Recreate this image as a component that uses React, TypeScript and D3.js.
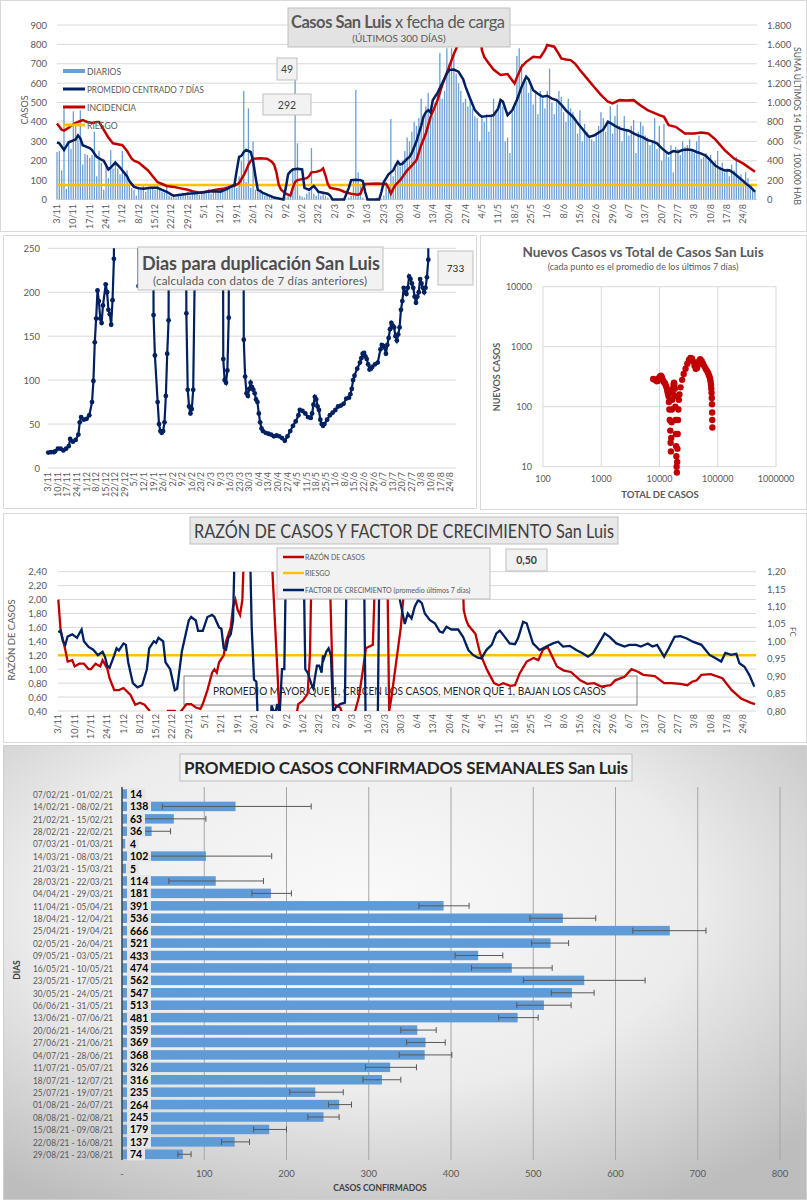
import React from 'react';
import * as d3 from 'd3';

const FONT = 'Lato, "Liberation Sans", sans-serif';
const GRID = '#d9d9d9';
const TXT = '#595959';
const BLUE = '#6a9fd4';
const NAVY = '#002060';
const RED = '#c00000';
const ORANGE = '#ffc000';

// x axis labels (one every 7 days, day 0 = 3/11)
const weekLabels = ['3/11', '10/11', '17/11', '24/11', '1/12', '8/12', '15/12', '22/12', '29/12', '5/1', '12/1', '19/1', '26/1', '2/2', '9/2', '16/2', '23/2', '2/3', '9/3', '16/3', '23/3', '30/3', '6/4', '13/4', '20/4', '27/4', '4/5', '11/5', '18/5', '25/5', '1/6', '8/6', '15/6', '22/6', '29/6', '6/7', '13/7', '20/7', '27/7', '3/8', '10/8', '17/8', '24/8'];

// daily cases, last 300 days
const dailyCases = [
  245, 250, 150, 470, 55, 300, 260,
  455, 380, 310, 460, 180, 235, 230,
  215, 230, 350, 120, 250, 190, 50,
  180, 110, 255, 160, 200, 160, 130,
  250, 140, 150, 90, 60, 50, 20,
  60, 50, 70, 40, 60, 55, 65,
  50, 70, 60, 40, 35, 80, 20,
  15, 25, 10, 30, 20, 35, 25,
  40, 20, 35, 30, 40, 25, 45,
  35, 40, 55, 30, 45, 40, 35,
  50, 40, 45, 60, 55, 70, 80,
  60, 120, 200, 560, 90, 470, 60,
  300, 50, 60, 40, 30, 20, 25,
  15, 20, 10, 5, 0, 5, 0,
  10, 20, 30, 160, 620, 290, 20,
  15, 10, 30, 40, 265, 30, 20,
  40, 20, 30, 20, 10, 0, 5,
  0, 0, 0, 5, 0, 0, 10,
  20, 100, 565, 140, 80, 10, 0,
  0, 0, 0, 0, 10, 0, 5,
  20, 90, 80, 415, 120, 160, 200,
  170, 200, 250, 320, 300, 350, 400,
  380, 420, 520, 430, 480, 550, 460,
  430, 500, 540, 755, 520, 560, 780,
  700, 780, 760, 650, 600, 560, 500,
  520, 480, 510, 470, 430, 420, 300,
  420, 400, 440, 350, 430, 520, 460,
  480, 520, 480, 300, 320, 240, 450,
  500, 740, 780, 700, 620, 610, 550,
  580, 490, 560, 440, 560, 520, 470,
  560, 675, 500, 440, 510, 560, 530,
  450, 400, 520, 470, 450, 400, 340,
  460, 300, 390, 350, 320, 310, 300,
  340, 380, 450, 420, 350, 400, 480,
  340, 430, 490, 380, 300, 430, 360,
  330, 380, 410, 240, 350, 400, 380,
  330, 320, 280, 300, 420, 260, 380,
  200, 390, 240, 220, 280, 140, 270,
  260, 230, 300, 270, 280, 310, 250,
  240, 300, 330, 210, 220, 240, 200,
  230, 180, 200, 250, 170, 190, 140,
  160, 120, 180, 150, 220, 110, 130,
  100, 140, 110, 80, 60, 50,
];

// [day, value]
const avg7: [number, number][] = [[0, 295], [1, 290], [3, 255], [5, 295], [7, 305], [8, 310], [9, 330], [10, 315], [11, 280], [13, 270], [14, 265], [15, 255], [17, 220], [19, 205], [20, 200], [22, 155], [23, 165], [25, 190], [27, 165], [28, 150], [30, 120], [31, 95], [33, 65], [35, 58], [37, 55], [40, 60], [43, 60], [45, 50], [47, 40], [49, 25], [50, 20], [53, 25], [56, 30], [59, 32], [61, 35], [64, 40], [67, 42], [70, 40], [73, 55], [75, 70], [76, 75], [77, 150], [78, 220], [79, 225], [80, 245], [81, 255], [82, 250], [83, 245], [84, 200], [85, 120], [86, 50], [87, 45], [88, 35], [89, 30], [91, 20], [93, 10], [95, 5], [97, 0], [98, 60], [99, 130], [100, 145], [101, 155], [103, 158], [105, 155], [106, 60], [107, 55], [108, 50], [109, 60], [110, 70], [111, 55], [112, 40], [114, 35], [116, 30], [117, 20], [118, 0], [120, 0], [123, 0], [125, 60], [126, 100], [128, 102], [130, 100], [131, 95], [132, 40], [133, 0], [135, 0], [138, 0], [139, 40], [140, 90], [141, 110], [142, 130], [144, 150], [145, 175], [146, 195], [147, 180], [148, 185], [150, 210], [151, 220], [152, 240], [154, 300], [156, 380], [157, 427], [158, 450], [159, 461], [160, 450], [161, 513], [163, 550], [165, 599], [167, 650], [168, 668], [170, 670], [172, 659], [174, 620], [175, 582], [177, 520], [179, 461], [181, 435], [182, 427], [184, 430], [186, 432], [187, 435], [189, 470], [190, 513], [191, 505], [193, 435], [195, 460], [197, 513], [199, 580], [201, 633], [202, 620], [204, 564], [206, 545], [208, 530], [210, 535], [212, 520], [214, 513], [216, 490], [218, 460], [221, 427], [223, 395], [225, 365], [227, 335], [228, 323], [230, 330], [232, 345], [234, 360], [236, 401], [237, 395], [239, 380], [241, 367], [243, 360], [245, 355], [247, 341], [249, 330], [251, 320], [253, 306], [255, 300], [257, 290], [259, 265], [261, 245], [262, 237], [264, 250], [266, 245], [268, 255], [270, 258], [272, 255], [274, 245], [276, 237], [278, 225], [280, 200], [282, 175], [284, 160], [286, 150], [288, 151], [290, 135], [292, 115], [294, 95], [295, 83], [297, 65], [299, 40]];

const incidence: [number, number][] = [[0, 785], [2, 720], [3, 710], [5, 740], [6, 760], [8, 790], [10, 810], [11, 820], [13, 800], [15, 790], [17, 800], [18, 800], [20, 720], [22, 640], [24, 580], [26, 570], [28, 560], [30, 500], [32, 420], [33, 400], [35, 380], [37, 340], [39, 300], [41, 240], [43, 180], [45, 160], [47, 140], [50, 130], [53, 115], [56, 100], [58, 85], [61, 70], [63, 75], [65, 85], [68, 100], [71, 110], [74, 130], [76, 140], [78, 170], [80, 250], [81, 300], [82, 360], [83, 400], [84, 420], [87, 425], [90, 420], [92, 390], [93, 360], [94, 280], [95, 150], [96, 100], [98, 60], [100, 40], [101, 120], [102, 180], [103, 200], [105, 210], [107, 220], [108, 240], [109, 280], [111, 285], [113, 300], [114, 320], [115, 250], [116, 160], [117, 120], [119, 110], [121, 100], [123, 80], [126, 60], [129, 50], [130, 60], [131, 120], [132, 160], [137, 165], [141, 160], [142, 120], [143, 60], [144, 110], [145, 150], [147, 200], [150, 300], [152, 350], [154, 406], [156, 560], [158, 681], [160, 850], [163, 1025], [165, 1180], [168, 1370], [170, 1500], [172, 1610], [174, 1800], [175, 1950], [180, 1950], [181, 1800], [182, 1541], [183, 1470], [185, 1404], [187, 1340], [190, 1284], [193, 1294], [196, 1197], [197, 1260], [199, 1370], [201, 1420], [204, 1473], [207, 1466], [209, 1540], [210, 1593], [213, 1576], [215, 1500], [216, 1456], [218, 1445], [220, 1438], [222, 1400], [224, 1335], [227, 1250], [230, 1163], [233, 1080], [236, 1008], [238, 991], [241, 1025], [244, 1020], [247, 1025], [250, 970], [253, 922], [256, 890], [258, 870], [260, 853], [262, 767], [265, 750], [269, 681], [273, 681], [276, 690], [279, 681], [282, 620], [286, 509], [290, 423], [294, 370], [297, 320], [299, 286]];

const RIESGO_INC = 150;
const LAST_DAILY = 49;
const LAST_INCIDENCE = 292;

// doubling days (values far off the chart are set to 1000)
const doubling: [number, number][] = [[0, 17.5], [2, 18], [4, 18], [5, 19], [7, 22], [9, 22], [11, 20], [13, 22], [15, 25], [16, 33], [18, 30], [20, 32], [22, 38], [23, 52], [24, 58], [26, 55], [28, 56], [30, 60], [32, 75], [33, 99], [34, 143], [35, 170], [36, 202], [37, 190], [38, 170], [39, 165], [40, 185], [42, 209], [43, 200], [44, 180], [45, 175], [46, 163], [47, 191], [48, 238], [49, 1000], [65, 1000], [66, 207], [67, 1000], [76, 1000], [77, 174], [78, 128], [80, 75], [81, 50], [82, 42], [83, 40], [84, 42], [85, 52], [86, 82], [87, 130], [88, 168], [89, 1000], [100, 1000], [101, 176], [102, 89], [103, 70], [104, 62], [105, 67], [106, 89], [107, 205], [108, 205], [109, 205], [110, 1000], [127, 1000], [128, 124], [129, 100], [130, 97], [131, 111], [132, 171], [133, 1000], [142, 1000], [143, 146], [144, 104], [145, 85], [146, 82], [147, 90], [148, 97], [149, 92], [150, 89], [151, 85], [152, 78], [153, 75], [154, 62], [155, 52], [156, 45], [157, 42], [159, 40], [161, 39], [163, 38], [165, 36], [167, 37], [169, 36], [171, 34], [173, 31], [175, 36], [177, 42], [179, 48], [181, 53], [183, 60], [184, 66], [186, 65], [188, 62], [190, 58], [192, 57], [193, 62], [194, 72], [195, 81], [196, 78], [197, 70], [198, 66], [199, 55], [200, 50], [201, 48], [202, 50], [204, 55], [206, 60], [208, 63], [210, 66], [212, 70], [214, 71], [216, 73], [218, 79], [220, 80], [221, 84], [222, 90], [223, 100], [224, 105], [226, 113], [228, 120], [229, 125], [230, 130], [231, 131], [232, 127], [233, 124], [234, 118], [235, 112], [236, 113], [237, 115], [239, 118], [241, 120], [243, 135], [244, 140], [245, 139], [246, 137], [247, 130], [248, 140], [249, 148], [250, 158], [251, 165], [252, 162], [253, 160], [254, 150], [255, 145], [256, 152], [257, 160], [258, 180], [259, 190], [260, 205], [261, 200], [262, 198], [263, 205], [264, 218], [265, 215], [266, 210], [267, 205], [268, 195], [269, 188], [270, 195], [271, 200], [272, 215], [273, 210], [274, 205], [275, 200], [276, 205], [277, 217], [278, 237], [279, 733]];
const LAST_DOUBLING = 733;

// new cases (7-day mean) vs total cases
const totalCases = [7800, 8200, 8600, 9000, 9400, 9800, 10200, 10600, 11000, 11400, 11800, 12200, 12600, 13000, 13400, 13700, 14000, 14300, 14500, 14800, 15000, 15300, 15500, 15700, 15900, 16100, 16300, 16500, 16800, 17100, 17400, 17700, 18000, 18300, 18500, 18700, 18900, 19100, 19300, 19500, 19700, 19900, 20100, 20300, 20500, 20800, 21100, 21500, 22000, 23000, 24500, 26000, 28000, 30000, 32000, 34000, 36000, 38000, 40000, 42000, 44000, 46000, 48000, 50000, 53000, 56000, 59000, 62000, 65000, 68000, 70000, 72000, 74000, 75500, 76500, 77500, 78300, 79000, 79600, 80100, 80500, 80900];
const newCases7 = [290, 285, 280, 265, 270, 300, 320, 330, 310, 280, 260, 250, 240, 220, 200, 180, 165, 150, 120, 90, 60, 40, 25, 18, 30, 55, 90, 130, 170, 200, 230, 250, 240, 200, 150, 100, 60, 35, 22, 15, 10, 8, 12, 20, 35, 60, 90, 130, 160, 210, 280, 350, 430, 520, 600, 650, 640, 560, 480, 430, 440, 500, 580, 620, 580, 520, 470, 430, 400, 370, 340, 320, 290, 260, 230, 200, 170, 140, 110, 80, 60, 45];

// case ratio (left axis) and growth factor (right axis); off-scale values clipped
const caseRatio: [number, number][] = [[0, 2.0], [1, 1.56], [3, 1.28], [4, 1.11], [6, 1.13], [7, 1.04], [9, 1.08], [11, 1.08], [13, 1.0], [14, 1.0], [16, 1.08], [18, 1.04], [19, 1.13], [21, 1.01], [22, 0.87], [24, 0.7], [26, 0.7], [28, 0.73], [31, 0.63], [33, 0.49], [35, 0.52], [37, 0.49], [39, 0.41], [40, 0.3], [46, 0.35], [47, 0.4], [50, 0.4], [51, 0.35], [53, 0.41], [55, 0.5], [57, 0.5], [59, 0.45], [61, 0.43], [62, 0.5], [64, 0.7], [66, 0.95], [67, 1.0], [68, 0.95], [69, 1.1], [71, 1.2], [72, 1.4], [74, 1.6], [75, 1.9], [76, 2.0], [77, 1.85], [78, 1.78], [79, 2.0], [80, 3.0], [91, 3.0], [94, 1.0], [95, 0.3], [102, 0.3], [103, 0.5], [105, 0.55], [107, 0.65], [108, 1.2], [109, 3.0], [116, 3.0], [118, 0.5], [121, 0.45], [122, 0.35], [127, 0.35], [129, 0.6], [131, 1.05], [132, 1.3], [135, 1.35], [136, 2.4], [137, 3.0], [141, 3.0], [142, 0.4], [143, 0.6], [144, 0.85], [146, 1.35], [147, 1.6], [148, 2.0], [149, 3.0], [173, 3.0], [174, 1.85], [175, 1.71], [176, 1.63], [179, 1.51], [181, 1.23], [184, 0.99], [187, 0.8], [189, 0.77], [191, 0.8], [194, 0.76], [196, 0.77], [198, 0.94], [201, 1.11], [204, 1.16], [206, 1.13], [208, 1.28], [210, 1.32], [212, 1.18], [214, 1.04], [217, 0.98], [220, 0.96], [224, 0.84], [227, 0.79], [230, 0.8], [233, 0.75], [237, 0.77], [239, 0.84], [243, 0.89], [246, 1.0], [249, 0.96], [251, 0.92], [256, 0.9], [260, 0.8], [263, 0.8], [267, 0.79], [270, 0.77], [272, 0.82], [274, 0.84], [276, 0.92], [280, 0.93], [285, 0.87], [289, 0.7], [293, 0.58], [297, 0.52], [299, 0.5]];

const growthFactor: [number, number][] = [[0, 1.026], [1, 1.03], [2, 1.0], [3, 0.99], [4, 1.014], [6, 1.02], [8, 1.01], [10, 1.034], [11, 1.0], [13, 0.984], [15, 0.976], [17, 0.96], [19, 0.97], [20, 0.956], [21, 0.93], [22, 0.924], [24, 0.96], [25, 0.98], [26, 0.974], [28, 0.994], [29, 0.99], [30, 0.94], [32, 0.88], [34, 0.868], [36, 0.874], [38, 0.92], [39, 0.98], [41, 1.0], [42, 0.996], [43, 1.01], [45, 1.0], [46, 0.94], [48, 0.92], [50, 0.86], [51, 0.864], [53, 0.97], [54, 1.0], [56, 1.06], [57, 1.07], [59, 1.06], [60, 1.03], [62, 1.03], [64, 1.07], [66, 1.076], [67, 1.07], [69, 1.04], [70, 1.036], [71, 0.98], [72, 0.976], [73, 1.01], [74, 1.02], [75, 1.06], [76, 1.35], [82, 1.35], [83, 1.04], [84, 0.89], [85, 0.884], [86, 0.7], [91, 0.7], [91.5, 0.816], [93, 0.79], [94, 0.82], [95, 0.79], [96, 0.92], [97, 0.92], [98, 1.35], [105, 1.35], [106, 0.92], [107, 0.91], [109, 0.87], [109.5, 0.864], [110, 0.89], [111, 0.93], [112, 0.93], [113, 0.91], [113.6, 0.96], [114, 0.95], [115, 0.97], [116, 0.98], [117, 0.96], [118, 0.79], [119, 0.81], [121, 0.82], [123, 0.824], [124, 1.35], [131, 1.35], [132, 0.7], [137, 0.7], [138, 1.35], [145, 1.35], [146.6, 1.119], [148.7, 1.05], [150, 1.08], [151.6, 1.066], [153, 1.1], [154.5, 1.119], [156, 1.11], [157.3, 1.08], [159.5, 1.061], [161.6, 1.052], [163.7, 1.028], [165, 1.025], [166.6, 1.042], [168.7, 1.034], [171.6, 1.034], [173.7, 1.013], [176, 0.975], [178, 0.961], [180, 0.953], [181.6, 0.951], [183.7, 0.975], [186, 0.99], [188, 1.023], [189.5, 1.031], [191.6, 1.013], [193.7, 0.994], [196, 0.992], [197.3, 1.009], [199.5, 1.056], [201, 1.052], [203.7, 0.994], [206.6, 0.975], [209.5, 0.985], [212.3, 0.994], [214.5, 0.999], [216.6, 0.985], [219.5, 0.987], [222.3, 0.975], [225, 0.966], [227.3, 0.956], [229.5, 0.966], [232, 0.994], [234.5, 1.023], [236.6, 1.013], [239.5, 0.994], [243, 0.985], [245, 0.99], [248, 0.99], [250, 0.985], [253, 0.994], [255, 0.985], [257, 0.99], [260, 0.956], [262, 0.98], [264.5, 1.013], [267, 1.015], [269.5, 1.009], [272.3, 0.999], [276, 0.99], [279.5, 0.961], [282.3, 0.951], [284.5, 0.942], [286.3, 0.967], [288.7, 0.961], [291, 0.964], [292.3, 0.937], [294.5, 0.927], [296.6, 0.903], [298.7, 0.87]];
const RIESGO_RATIO = 1.2;
const LAST_RATIO = '0,50';

// weekly means
const weekRanges = ['07/02/21 - 01/02/21', '14/02/21 - 08/02/21', '21/02/21 - 15/02/21', '28/02/21 - 22/02/21', '07/03/21 - 01/03/21', '14/03/21 - 08/03/21', '21/03/21 - 15/03/21', '28/03/21 - 22/03/21', '04/04/21 - 29/03/21', '11/04/21 - 05/04/21', '18/04/21 - 12/04/21', '25/04/21 - 19/04/21', '02/05/21 - 26/04/21', '09/05/21 - 03/05/21', '16/05/21 - 10/05/21', '23/05/21 - 17/05/21', '30/05/21 - 24/05/21', '06/06/21 - 31/05/21', '13/06/21 - 07/06/21', '20/06/21 - 14/06/21', '27/06/21 - 21/06/21', '04/07/21 - 28/06/21', '11/07/21 - 05/07/21', '18/07/21 - 12/07/21', '25/07/21 - 19/07/21', '01/08/21 - 26/07/21', '08/08/21 - 02/08/21', '15/08/21 - 09/08/21', '22/08/21 - 16/08/21', '29/08/21 - 23/08/21'];
const weeklyMean = [14, 138, 63, 36, 4, 102, 5, 114, 181, 391, 536, 666, 521, 433, 474, 562, 547, 513, 481, 359, 369, 368, 326, 316, 235, 264, 245, 179, 137, 74];
const weeklyLow = [null, 49, 25, 15, null, 22, null, 57, 158, 361, 496, 621, 498, 405, 425, 488, 522, 480, 458, 339, 346, 337, 296, 293, 204, 251, 226, 160, 121, 68];
const weeklyHigh = [null, 230, 102, 59, null, 182, null, 172, 206, 422, 576, 710, 543, 463, 523, 636, 574, 546, 506, 382, 393, 401, 358, 339, 269, 279, 264, 200, 155, 84];

const es = d3.formatLocale({ decimal: ',', thousands: '.', grouping: [3], currency: ['$', ''] });
const fmtInt = es.format(',d');
const fmt2 = es.format(',.2f');

function XLabels({ x, y }: { x: (d: number) => number; y: number }) {
  return (
    <g fontSize={9} fill={TXT}>
      {weekLabels.map((l, i) => (
        <text key={l} transform={`translate(${x(i * 7) + 3},${y}) rotate(-90)`} textAnchor="end">{l}</text>
      ))}
    </g>
  );
}

function Box({ x, y, w, h, fill = '#f2f2f2' }: { x: number; y: number; w: number; h: number; fill?: string }) {
  return <rect x={x} y={y} width={w} height={h} fill={fill} stroke="#bfbfbf" strokeWidth={1} />;
}

function TopChart() {
  const x = d3.scaleLinear().domain([0, 299]).range([57, 755]);
  const yL = d3.scaleLinear().domain([0, 900]).range([199.5, 25]);
  const yR = d3.scaleLinear().domain([0, 1800]).range([199.5, 25]);
  const lineL = d3.line<[number, number]>().x(d => x(d[0])).y(d => yL(d[1]));
  const lineR = d3.line<[number, number]>().x(d => x(d[0])).y(d => yR(d[1]));
  return (
    <g>
      <rect x={0.5} y={0.5} width={806} height={231} fill="#fff" stroke={GRID} />
      {yL.ticks(9).map(t => (
        <line key={t} x1={57} x2={757} y1={yL(t)} y2={yL(t)} stroke={GRID} />
      ))}
      <g fontSize={9.5} fill={TXT}>
        {yL.ticks(9).map(t => (
          <text key={t} x={47} y={yL(t) + 3.5} textAnchor="end">{t}</text>
        ))}
        {yR.ticks(9).map(t => (
          <text key={t} x={767} y={yR(t) + 3.5}>{fmtInt(t)}</text>
        ))}
        <text transform="translate(28,110) rotate(-90)" textAnchor="middle" fontSize={9}>CASOS</text>
        <text transform="translate(794,47) rotate(90)" fontSize={8.5} textLength={158} lengthAdjust="spacingAndGlyphs">SUMA  ÚLTIMOS 14 DÍAS / 100.000 HAB</text>
      </g>
      <XLabels x={x} y={204} />
      <g clipPath="url(#clipTop)">
        {dailyCases.map((v, i) => (
          <rect key={i} x={x(i) - 0.65} y={yL(v)} width={1.3} height={yL(0) - yL(v)} fill={BLUE} />
        ))}
        <line x1={57} x2={757} y1={yR(RIESGO_INC)} y2={yR(RIESGO_INC)} stroke={ORANGE} strokeWidth={2.5} />
        <path d={lineR(incidence) ?? ''} fill="none" stroke={RED} strokeWidth={2.5} />
        <path d={lineL(avg7) ?? ''} fill="none" stroke={NAVY} strokeWidth={2.5} />
      </g>
      <g fontSize={8.6} fill={TXT}>
        <rect x={63} y={69} width={22} height={4} fill={BLUE} />
        <text x={87} y={74.5}>DIARIOS</text>
        <line x1={63} x2={85} y1={89} y2={89} stroke={NAVY} strokeWidth={3} />
        <text x={87} y={92.5} textLength={117} lengthAdjust="spacingAndGlyphs">PROMEDIO CENTRADO 7 DÍAS</text>
        <line x1={63} x2={85} y1={107} y2={107} stroke={RED} strokeWidth={3} />
        <text x={87} y={110.5}>INCIDENCIA</text>
        <line x1={63} x2={85} y1={125} y2={125} stroke={ORANGE} strokeWidth={3} />
        <text x={87} y={128.5}>RIESGO</text>
      </g>
      <Box x={288} y={8} w={222} h={39} fill="#e3e3e3" />
      <text x={291} y={28} fontSize={16.5} fill={TXT} textLength={214}>
        <tspan fontWeight="bold">Casos San Luis</tspan> x fecha de carga
      </text>
      <text x={399} y={42} textAnchor="middle" fontSize={10} fill={TXT}>(ÚLTIMOS 300 DÍAS)</text>
      <Box x={277} y={58} w={20} h={22} />
      <text x={287} y={73} textAnchor="middle" fontSize={10.5} fill="#404040">{LAST_DAILY}</text>
      <Box x={263} y={94} w={48} h={21} />
      <text x={287} y={108.5} textAnchor="middle" fontSize={10.5} fill="#404040">{LAST_INCIDENCE}</text>
    </g>
  );
}

function DoublingChart() {
  const x = d3.scaleLinear().domain([0, 299]).range([48.3, 457]);
  const y = d3.scaleLinear().domain([0, 250]).range([468, 248.3]);
  const line = d3.line<[number, number]>().x(d => x(d[0])).y(d => y(d[1]));
  return (
    <g>
      <rect x={3.5} y={235.5} width={473} height={273} fill="#fff" stroke={GRID} />
      {y.ticks(5).map(t => (
        <line key={t} x1={48} x2={456} y1={y(t)} y2={y(t)} stroke={GRID} />
      ))}
      <g fontSize={9.5} fill={TXT}>
        {y.ticks(5).map(t => (
          <text key={t} x={40} y={y(t) + 3.5} textAnchor="end">{t}</text>
        ))}
      </g>
      <XLabels x={x} y={472} />
      <g clipPath="url(#clipDup)">
        <path d={line(doubling) ?? ''} fill="none" stroke={NAVY} strokeWidth={2.2} />
        {doubling.filter(d => d[1] < 300).map(d => (
          <circle key={d[0]} cx={x(d[0])} cy={y(d[1])} r={2.4} fill={NAVY} />
        ))}
      </g>
      <Box x={138} y={247} w={245} h={43} />
      <text x={142} y={269.5} fontSize={18} fontWeight="bold" fill="#4d4d4d" textLength={238}>Dias para duplicación San Luis</text>
      <text x={153} y={285} fontSize={11.5} fill={TXT} textLength={214}>(calculada con datos de 7 días anteriores)</text>
      <Box x={438} y={251} w={35} h={34} />
      <text x={455.5} y={272} textAnchor="middle" fontSize={10} fill="#262626">{LAST_DOUBLING}</text>
    </g>
  );
}

function ScatterChart() {
  const x = d3.scaleLog().domain([100, 1000000]).range([543, 776]);
  const y = d3.scaleLog().domain([10, 10000]).range([466.7, 286.7]);
  const xt = [100, 1000, 10000, 100000, 1000000];
  const yt = [10, 100, 1000, 10000];
  return (
    <g>
      <rect x={480.5} y={235.5} width={326} height={274} fill="#fff" stroke={GRID} />
      <text x={643} y={257} textAnchor="middle" fontSize={13.5} fontWeight="bold" fill={TXT}>Nuevos Casos vs Total de Casos San Luis</text>
      <text x={643} y={270} textAnchor="middle" fontSize={9} fill={TXT}>(cada punto es el promedio de los últimos 7 días)</text>
      {xt.map(t => <line key={t} x1={x(t)} x2={x(t)} y1={286.7} y2={466.7} stroke={GRID} />)}
      {yt.map(t => <line key={t} x1={543} x2={776} y1={y(t)} y2={y(t)} stroke={GRID} />)}
      <g fontSize={9} fill={TXT}>
        {yt.map(t => <text key={t} x={532} y={y(t) + 3} textAnchor="end">{t}</text>)}
        {xt.map(t => <text key={t} x={x(t)} y={482} textAnchor="middle">{t}</text>)}
        <text transform="translate(500,377) rotate(-90)" textAnchor="middle" fontWeight="bold">NUEVOS CASOS</text>
        <text x={660} y={498} textAnchor="middle" fontWeight="bold" fontSize={9.5}>TOTAL DE CASOS</text>
      </g>
      {totalCases.map((t, i) => (
        <circle key={i} cx={x(t)} cy={y(newCases7[i])} r={3.2} fill={RED} />
      ))}
    </g>
  );
}

function RatioChart() {
  const x = d3.scaleLinear().domain([0, 299]).range([58.3, 755]);
  const yL = d3.scaleLinear().domain([0.4, 2.4]).range([711, 571.7]);
  const yR = d3.scaleLinear().domain([0.8, 1.2]).range([711, 571.7]);
  const lineL = d3.line<[number, number]>().x(d => x(d[0])).y(d => yL(d[1]));
  const lineR = d3.line<[number, number]>().x(d => x(d[0])).y(d => yR(d[1]));
  const lt = d3.range(0.4, 2.41, 0.2);
  const rt = d3.range(0.8, 1.201, 0.05);
  return (
    <g>
      <rect x={3.5} y={513.5} width={803} height={229} fill="#fff" stroke={GRID} />
      {lt.map(t => <line key={t} x1={58} x2={756} y1={yL(t)} y2={yL(t)} stroke={GRID} />)}
      <g fontSize={9.5} fill={TXT}>
        {lt.map(t => <text key={t} x={47} y={yL(t) + 3.5} textAnchor="end">{fmt2(t)}</text>)}
        {rt.map(t => <text key={t} x={767} y={yR(t) + 3.5}>{fmt2(t)}</text>)}
        <text transform="translate(15,640) rotate(-90)" textAnchor="middle">RAZÓN DE CASOS</text>
        <text transform="translate(790,632) rotate(90)" textAnchor="middle" fontSize={8}>FC</text>
      </g>
      <XLabels x={x} y={714} />
      <rect x={184} y={676} width={453} height={29} fill="none" stroke="#808080" />
      <text x={213} y={695} fontSize={12} fill="#262626" textLength={393} lengthAdjust="spacingAndGlyphs">PROMEDIO MAYOR QUE 1, CRECEN LOS CASOS, MENOR QUE 1, BAJAN LOS CASOS</text>
      <g clipPath="url(#clipRatio)">
        <line x1={58} x2={756} y1={yL(RIESGO_RATIO)} y2={yL(RIESGO_RATIO)} stroke={ORANGE} strokeWidth={2.5} />
        <path d={lineL(caseRatio) ?? ''} fill="none" stroke={RED} strokeWidth={2.3} />
        <path d={lineR(growthFactor) ?? ''} fill="none" stroke={NAVY} strokeWidth={2.3} />
      </g>
      <Box x={190} y={517} w={428} h={27} fill="#e8e8e8" />
      <text x={194} y={538} fontSize={18.5} fill="#404040" textLength={420} lengthAdjust="spacingAndGlyphs">RAZÓN DE CASOS Y FACTOR DE CRECIMIENTO San Luis</text>
      <Box x={277} y={548} w={213} h={51} />
      <g fontSize={7} fill={TXT}>
        <line x1={283} x2={304} y1={557} y2={557} stroke={RED} strokeWidth={2.5} />
        <text x={305} y={559.5}>RAZÓN DE CASOS</text>
        <line x1={283} x2={304} y1={573} y2={573} stroke={ORANGE} strokeWidth={2.5} />
        <text x={305} y={575.5}>RIESGO</text>
        <line x1={283} x2={304} y1={590} y2={590} stroke={NAVY} strokeWidth={2.5} />
        <text x={305} y={592.5}>FACTOR DE CRECIMIENTO (promedio últimos 7 días)</text>
      </g>
      <Box x={506} y={549} w={41} h={22} />
      <text x={526.5} y={564} textAnchor="middle" fontSize={10.5} fontWeight="bold" fill="#404040">{LAST_RATIO}</text>
    </g>
  );
}

function WeeklyChart() {
  const x = d3.scaleLinear().domain([0, 800]).range([122, 780]);
  const y = d3.scalePoint<string>().domain(weekRanges).range([794, 1154.3]);
  const bh = 9.5;
  return (
    <g>
      <rect x={3.5} y={745.5} width={803} height={454} fill="url(#bgGrad)" stroke="#cfcfcf" />
      {d3.range(100, 801, 100).map(t => (
        <line key={t} x1={x(t)} x2={x(t)} y1={787} y2={1160} stroke="#a6a6a6" strokeWidth={1} />
      ))}
      <g fontSize={9.5} fill={TXT}>
        {d3.range(0, 801, 100).map(t => (
          <text key={t} x={x(t)} y={1177} textAnchor="middle">{t === 0 ? '-' : t}</text>
        ))}
        <text x={380} y={1191} textAnchor="middle" fontSize={8.5} fontWeight="bold" fill="#404040">CASOS CONFIRMADOS</text>
        <text transform="translate(20,970) rotate(-90)" textAnchor="middle" fontSize={8.5} fontWeight="bold" fill="#404040">DIAS</text>
      </g>
      {weekRanges.map((w, i) => {
        const cy = y(w) ?? 0;
        return (
          <g key={w}>
            <text x={33} y={cy + 3.8} fontSize={9.4} fill={TXT} textLength={80} lengthAdjust="spacingAndGlyphs">{w}</text>
            <rect x={x(0)} y={cy - bh / 2} width={x(weeklyMean[i]) - x(0)} height={bh} fill="#5f9bd6" />
          </g>
        );
      })}
      {weekRanges.map((w, i) => {
        const lo = weeklyLow[i];
        const hi = weeklyHigh[i];
        if (lo == null || hi == null) return null;
        const cy = y(w) ?? 0;
        return (
          <g key={w} stroke="#595959" strokeWidth={1}>
            <line x1={x(lo)} x2={x(hi)} y1={cy} y2={cy} />
            <line x1={x(lo)} x2={x(lo)} y1={cy - 3} y2={cy + 3} />
            <line x1={x(hi)} x2={x(hi)} y1={cy - 3} y2={cy + 3} />
          </g>
        );
      })}
      {weekRanges.map((w, i) => {
        const cy = y(w) ?? 0;
        const s = String(weeklyMean[i]);
        const bw = 6 + s.length * 6;
        return (
          <g key={w}>
            <rect x={127} y={cy - 6} width={bw} height={12} fill="#e6e6e6" />
            <text x={130} y={cy + 4} fontSize={10.5} fontWeight="bold" fill="#000">{s}</text>
          </g>
        );
      })}
      <line x1={x(0)} x2={x(0)} y1={787} y2={1160} stroke="#404040" strokeWidth={1.5} />
      <Box x={180} y={754} w={452} h={27} />
      <text x={184} y={774} fontSize={17} fontWeight="bold" fill="#262626" textLength={444}>PROMEDIO CASOS CONFIRMADOS SEMANALES San Luis</text>
    </g>
  );
}

export default function App() {
  return (
    <svg width={807} height={1200} style={{ position: 'absolute', left: 0, top: 0, background: '#fff' }} fontFamily={FONT}>
      <defs>
        <clipPath id="clipTop"><rect x={50} y={25} width={710} height={176} /></clipPath>
        <clipPath id="clipDup"><rect x={40} y={248.3} width={425} height={225} /></clipPath>
        <clipPath id="clipRatio"><rect x={50} y={571.7} width={710} height={139.3} /></clipPath>
        <radialGradient id="bgGrad" cx="45%" cy="35%" r="75%">
          <stop offset="0%" stopColor="#fafafa" />
          <stop offset="55%" stopColor="#ececec" />
          <stop offset="100%" stopColor="#bdbdbd" />
        </radialGradient>
      </defs>
      <TopChart />
      <DoublingChart />
      <ScatterChart />
      <RatioChart />
      <WeeklyChart />
    </svg>
  );
}
